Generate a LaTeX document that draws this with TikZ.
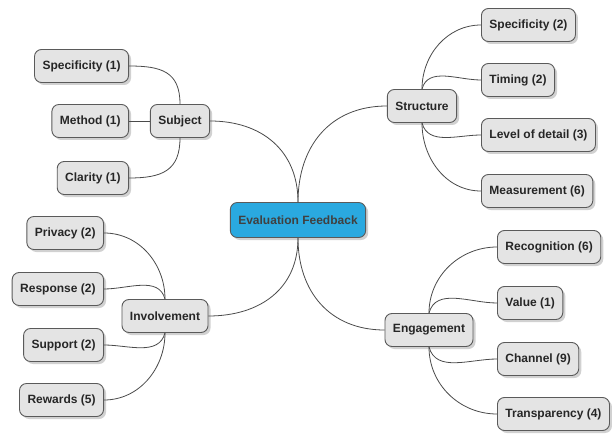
\documentclass[tikz,border=0pt]{standalone}
\usepackage{fontspec}
\setmainfont{Liberation Sans}
\usepackage{xcolor}
\usetikzlibrary{shadows, positioning}

\definecolor{boxfill}{HTML}{E4E4E4}
\definecolor{boxline}{HTML}{5A5A5A}
\definecolor{evalblue}{HTML}{2AA9E0}
\definecolor{wire}{HTML}{4A4A4A}

\tikzset{
  topic/.style={draw=boxline, line width=0.9pt, fill=boxfill, rounded corners=7pt,
    inner xsep=8pt, minimum height=33pt, text=black!85,
    font=\fontsize{12}{14}\selectfont\bfseries,
    drop shadow={shadow xshift=2.5pt, shadow yshift=-2.5pt, opacity=0.3, fill=black!60}},
  root/.style={topic, fill=evalblue, text=black!75, minimum height=35pt},
  link/.style={draw=wire, line width=0.8pt}
}

\begin{document}
\begin{tikzpicture}[x=1pt, y=-1pt]
\useasboundingbox (0,0) rectangle (614,436);

% Centre
\node[root] (eval) at (298,220) {Evaluation Feedback};

% Subject branch
\node[topic] (subject) at (180,121) {Subject};
\node[topic, anchor=east] (spec1) at (129,66) {Specificity (1)};
\node[topic, anchor=east] (method) at (129,121) {Method (1)};
\node[topic, anchor=east] (clarity) at (129,178) {Clarity (1)};

% Structure branch
\node[topic] (structure) at (422,106) {Structure};
\node[topic, anchor=west] (spec2) at (481,25) {Specificity (2)};
\node[topic, anchor=west] (timing) at (481,80) {Timing (2)};
\node[topic, anchor=west] (detail) at (481,135) {Level of detail (3)};
\node[topic, anchor=west] (measure) at (481,191) {Measurement (6)};

% Involvement branch
\node[topic] (involve) at (165,316) {Involvement};
\node[topic, anchor=east] (privacy) at (104,233) {Privacy (2)};
\node[topic, anchor=east] (response) at (104,289) {Response (2)};
\node[topic, anchor=east] (support) at (104,345) {Support (2)};
\node[topic, anchor=east] (rewards) at (104,400) {Rewards (5)};

% Engagement branch
\node[topic] (engage) at (429,330) {Engagement};
\node[topic, anchor=west] (recog) at (497,247) {Recognition (6)};
\node[topic, anchor=west] (value) at (497,303) {Value (1)};
\node[topic, anchor=west] (channel) at (497,359) {Channel (9)};
\node[topic, anchor=west] (transp) at (497,414) {Transparency (4)};

% main branches
\draw[link] (eval.north) to[out=90, in=0, looseness=1.1] (subject.east);
\draw[link] (eval.north) to[out=90, in=180, looseness=1.1] (structure.west);
\draw[link] (eval.south) to[out=-90, in=0, looseness=1.1] (involve.east);
\draw[link] (eval.south) to[out=-90, in=180, looseness=1.1] (engage.west);

% sub topics
\draw[link] (subject.north) to[out=90, in=0, looseness=1.3] (spec1.east);
\draw[link] (subject.west) -- (method.east);
\draw[link] (subject.south) to[out=-90, in=0, looseness=1.3] (clarity.east);

\draw[link] (structure.north) to[out=90, in=180] (spec2.west);
\draw[link] (structure.north) to[out=75, in=180] (timing.west);
\draw[link] (structure.south) to[out=-75, in=180] (detail.west);
\draw[link] (structure.south) to[out=-90, in=180] (measure.west);

\draw[link] (involve.north) to[out=90, in=0] (privacy.east);
\draw[link] (involve.north) to[out=105, in=0] (response.east);
\draw[link] (involve.south) to[out=-105, in=0] (support.east);
\draw[link] (involve.south) to[out=-90, in=0] (rewards.east);

\draw[link] (engage.north) to[out=90, in=180] (recog.west);
\draw[link] (engage.north) to[out=75, in=180] (value.west);
\draw[link] (engage.south) to[out=-75, in=180] (channel.west);
\draw[link] (engage.south) to[out=-90, in=180] (transp.west);
\end{tikzpicture}
\end{document}
